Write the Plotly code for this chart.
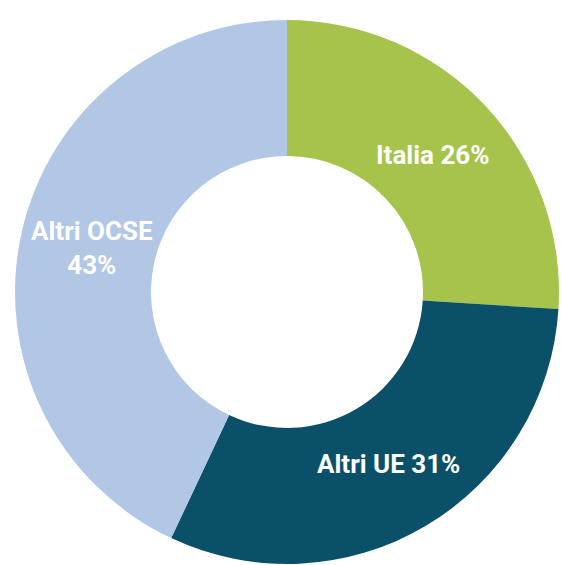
import math
import plotly.graph_objects as go

# Share of the total by geographic area
labels = ["Italia", "Altri UE", "Altri OCSE"]
values = [26, 31, 43]
slice_text = ["Italia 26%", "Altri UE 31%", "Altri OCSE<br>43%"]
colors = ["#a6c44c", "#0a5068", "#b2c6e6"]

W, H = 562, 565
HOLE = 0.5
dom_x = [0.0267, 0.9947]
dom_y = [0.0018, 0.9646]

fig = go.Figure(
    go.Pie(
        labels=labels,
        values=values,
        textinfo="none",
        hole=HOLE,
        sort=False,
        direction="clockwise",
        rotation=0,
        marker=dict(colors=colors, line=dict(width=0)),
        domain=dict(x=dom_x, y=dom_y),
        showlegend=False,
        hoverinfo="label+percent",
    )
)

# Slice labels at the middle of each ring segment, kept horizontal
cx = (dom_x[0] + dom_x[1]) / 2 * W
cy = (dom_y[0] + dom_y[1]) / 2 * H
radius = min((dom_x[1] - dom_x[0]) * W, (dom_y[1] - dom_y[0]) * H) / 2
r_text = radius * (1 + HOLE) / 2 * 0.98
total = sum(values)
start = 0.0
for txt, v in zip(slice_text, values):
    mid = (start + v / 2) / total * 2 * math.pi
    start += v
    fig.add_annotation(
        x=(cx + r_text * math.sin(mid)) / W,
        y=(cy + r_text * math.cos(mid)) / H,
        xref="paper",
        yref="paper",
        text=txt,
        showarrow=False,
        xanchor="center",
        yanchor="middle",
        align="center",
        font=dict(family="Roboto", size=26, color="white", weight="bold"),
    )

fig.update_layout(
    width=W,
    height=H,
    margin=dict(l=0, r=0, t=0, b=0),
    paper_bgcolor="white",
    plot_bgcolor="white",
)

fig.write_html("out.html")
